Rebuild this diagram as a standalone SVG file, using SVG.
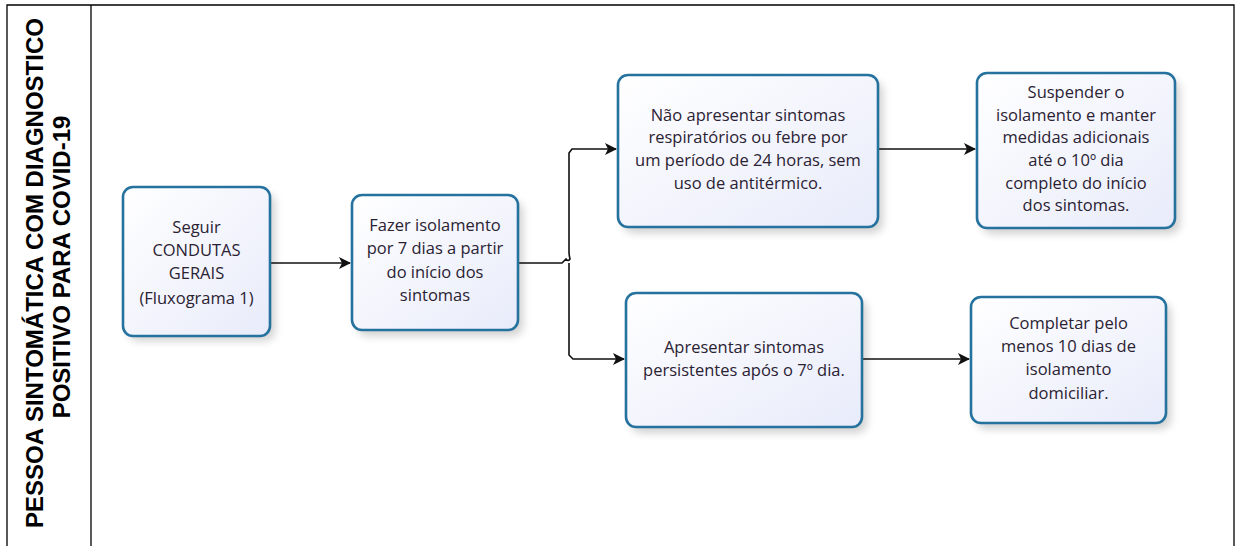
<svg xmlns="http://www.w3.org/2000/svg" width="1240" height="546" viewBox="0 0 1240 546">
<style>
.box{fill:url(#g);stroke:#25729e;stroke-width:2.6}
.sh{fill:#000;opacity:0.18;filter:url(#blur)}
.t{font-family:"Open Sans","Noto Sans",sans-serif;font-size:16.5px;fill:#2a2233;text-anchor:middle}
.c{fill:none;stroke:#111;stroke-width:1.6}
.lane{font-family:"Liberation Sans",Arial,sans-serif;font-weight:bold;font-size:24px;fill:#000;text-anchor:middle}
</style>
<defs>
<linearGradient id="g" x1="0" y1="0" x2="1" y2="1">
<stop offset="0" stop-color="#ffffff"/><stop offset="1" stop-color="#e8ebfa"/>
</linearGradient>
<filter id="blur" x="-20%" y="-20%" width="140%" height="140%"><feGaussianBlur stdDeviation="4"/></filter>
<marker id="a" markerWidth="12" markerHeight="12" refX="11" refY="6" orient="auto" markerUnits="userSpaceOnUse">
<path d="M0,0 L12,6 L0,12 L3,6 Z" fill="#111"/>
</marker>
</defs>
<rect width="1240" height="546" fill="#fff"/>
<g id="lane">
<path d="M7,548 V5 H1234 V548" fill="none" stroke="#000" stroke-width="1.3"/>
<line x1="91" y1="5" x2="91" y2="548" stroke="#000" stroke-width="1.3"/>
<text class="lane" transform="translate(43,273) rotate(-90)">PESSOA SINTOMÁTICA COM DIAGNOSTICO</text>
<text class="lane" transform="translate(70,267) rotate(-90)">POSITIVO PARA COVID-19</text>
</g>
<g id="connectors">
<path class="c" d="M270,263 H350" marker-end="url(#a)"/>
<path class="c" d="M518,263 H562 L566,259 Q568,262 570,259 Q569,255 569,252 V153 L572,149 H616" marker-end="url(#a)"/>
<path class="c" d="M569,263 V355 L573,359 H624" marker-end="url(#a)"/>
<path class="c" d="M878,149 H975" marker-end="url(#a)"/>
<path class="c" d="M862,359 H969" marker-end="url(#a)"/>
</g>
<g id="n1">
<rect class="sh" x="128" y="193" width="147" height="148" rx="10"/>
<rect class="box" x="123" y="187" width="147" height="149" rx="10"/>
<text class="t" x="196.5" y="233">Seguir</text>
<text class="t" x="196.5" y="256">CONDUTAS</text>
<text class="t" x="196.5" y="279">GERAIS</text>
<text class="t" x="196.5" y="304">(Fluxograma 1)</text>
</g>
<g id="n2">
<rect class="sh" x="357" y="201" width="166" height="135" rx="10"/>
<rect class="box" x="352" y="195" width="166" height="135" rx="10"/>
<text class="t" x="435" y="231">Fazer isolamento</text>
<text class="t" x="435" y="254">por 7 dias a partir</text>
<text class="t" x="435" y="278">do início dos</text>
<text class="t" x="435" y="301">sintomas</text>
</g>
<g id="n3">
<rect class="sh" x="623" y="81" width="260" height="152" rx="10"/>
<rect class="box" x="618" y="75" width="260" height="152" rx="10"/>
<text class="t" x="748" y="121">Não apresentar sintomas</text>
<text class="t" x="748" y="143">respiratórios ou febre por</text>
<text class="t" x="748" y="166">um período de 24 horas, sem</text>
<text class="t" x="748" y="189">uso de antitérmico.</text>
</g>
<g id="n4">
<rect class="sh" x="982" y="79" width="198" height="155" rx="10"/>
<rect class="box" x="977" y="73" width="198" height="155" rx="10"/>
<text class="t" x="1076" y="98">Suspender o</text>
<text class="t" x="1076" y="121">isolamento e manter</text>
<text class="t" x="1076" y="143">medidas adicionais</text>
<text class="t" x="1076" y="166">até o 10º dia</text>
<text class="t" x="1076" y="189">completo do início</text>
<text class="t" x="1076" y="211">dos sintomas.</text>
</g>
<g id="n5">
<rect class="sh" x="631" y="299" width="236" height="134" rx="10"/>
<rect class="box" x="626" y="293" width="236" height="134" rx="10"/>
<text class="t" x="744" y="353">Apresentar sintomas</text>
<text class="t" x="744" y="376">persistentes após o 7º dia.</text>
</g>
<g id="n6">
<rect class="sh" x="976" y="303" width="195" height="126" rx="10"/>
<rect class="box" x="971" y="297" width="195" height="126" rx="10"/>
<text class="t" x="1068.5" y="329">Completar pelo</text>
<text class="t" x="1068.5" y="352">menos 10 dias de</text>
<text class="t" x="1068.5" y="375">isolamento</text>
<text class="t" x="1068.5" y="399">domiciliar.</text>
</g>
</svg>
